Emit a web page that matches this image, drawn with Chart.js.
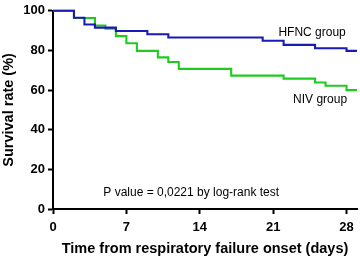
<!DOCTYPE html>
<html>
<head>
<meta charset="utf-8">
<script src="https://cdn.jsdelivr.net/npm/chart.js@4"></script>
<style>
  html, body { margin: 0; padding: 0; background: #fff; }
</style>
</head>
<body>
<canvas id="kmChart" width="360" height="259"></canvas>
<script>
// Kaplan-Meier survival curves
const hfncDays = [0, 2, 3, 4, 6, 9, 11, 20, 22, 25, 28, 29];
const hfncSurv = [100, 96.5, 93.1, 91.5, 89.8, 88.2, 86.5, 84.9, 82.8, 81.1, 79.8, 79.8];

const nivDays = [0, 2, 4, 5, 6, 7, 8, 10, 11, 12, 17, 22, 25, 26, 28, 29];
const nivSurv = [100, 96.4, 92.6, 91.0, 87.2, 83.6, 79.8, 76.5, 74.2, 70.7, 67.3, 65.8, 63.8, 62.2, 60.0, 60.0];

const xTicks = [0, 7, 14, 21, 28];
const yTicks = [0, 20, 40, 60, 80, 100];

const FONT = 'Liberation Sans, Arial, Helvetica, sans-serif';

function toPoints(days, surv) {
  return days.map((d, i) => ({ x: d, y: surv[i] }));
}

// group labels + p value written at data positions
const labelsPlugin = {
  id: 'kmLabels',
  afterDatasetsDraw(chart) {
    const { ctx, scales: { x, y } } = chart;
    ctx.save();
    ctx.fillStyle = '#000';
    ctx.font = '12px ' + FONT;
    ctx.textBaseline = 'middle';
    ctx.textAlign = 'left';
    ctx.fillText('HFNC group', x.getPixelForValue(21.5), y.getPixelForValue(88.9));
    ctx.fillText('NIV group', x.getPixelForValue(22.9), y.getPixelForValue(55.3));
    ctx.fillText('P value = 0,0221 by log-rank test', x.getPixelForValue(4.8), y.getPixelForValue(8.2));
    ctx.restore();
  }
};

const ctxKm = document.getElementById('kmChart').getContext('2d');

new Chart(ctxKm, {
  type: 'line',
  data: {
    datasets: [
      {
        label: 'HFNC group',
        data: toPoints(hfncDays, hfncSurv),
        borderColor: '#1a1ab4',
        borderWidth: 2.1,
        stepped: 'before',
        pointRadius: 0,
        fill: false,
        clip: 6
      },
      {
        label: 'NIV group',
        data: toPoints(nivDays, nivSurv),
        borderColor: '#1fcb1f',
        borderWidth: 2.1,
        stepped: 'before',
        pointRadius: 0,
        fill: false,
        clip: 6
      }
    ]
  },
  options: {
    responsive: false,
    devicePixelRatio: 1,
    animation: false,
    layout: { padding: { top: 7, right: 3, left: 0, bottom: 0 } },
    plugins: {
      legend: { display: false },
      tooltip: { enabled: false }
    },
    scales: {
      x: {
        type: 'linear',
        min: 0,
        max: 29,
        afterBuildTicks: s => { s.ticks = xTicks.map(v => ({ value: v })); },
        afterFit: s => { s.height = 50; },
        border: { color: '#000', width: 2 },
        grid: { drawOnChartArea: false, tickLength: 5, tickColor: '#000', tickWidth: 2 },
        ticks: { color: '#000', font: { family: FONT, size: 13, weight: 'bold' }, padding: 6, maxRotation: 0 },
        title: {
          display: true,
          text: 'Time from respiratory failure onset (days)',
          color: '#000',
          font: { family: FONT, size: 14.5, weight: 'bold' },
          padding: { top: 4, bottom: 1 }
        }
      },
      y: {
        type: 'linear',
        min: 0,
        max: 100,
        afterBuildTicks: s => { s.ticks = yTicks.map(v => ({ value: v })); },
        afterFit: s => { s.width = 53; },
        border: { color: '#000', width: 2 },
        grid: { drawOnChartArea: false, tickLength: 5, tickColor: '#000', tickWidth: 2 },
        ticks: { color: '#000', font: { family: FONT, size: 13, weight: 'bold' }, padding: 3 },
        title: {
          display: true,
          text: 'Survival rate (%)',
          color: '#000',
          font: { family: FONT, size: 14.5, weight: 'bold' },
          padding: { top: 0, bottom: 2 }
        }
      }
    }
  },
  plugins: [labelsPlugin]
});
</script>
</body>
</html>
